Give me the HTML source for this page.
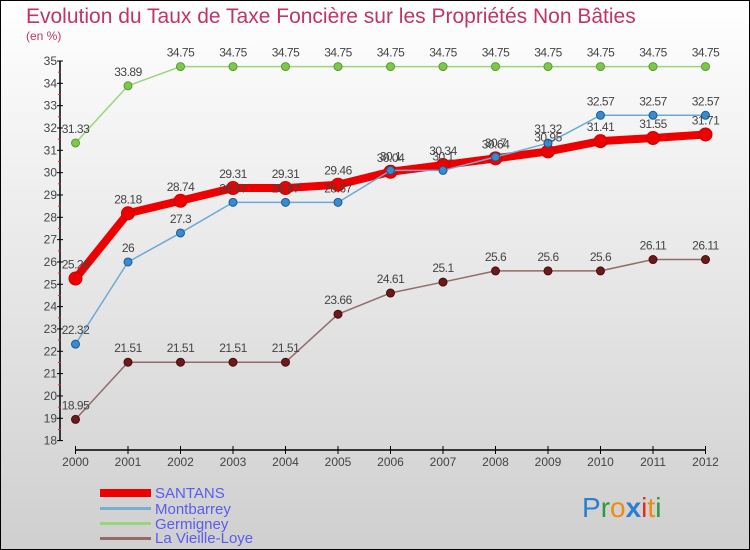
<!DOCTYPE html>
<html><head><meta charset="utf-8"><style>
body{margin:0}
svg{display:block;font-family:"Liberation Sans",sans-serif}
</style></head><body>
<svg id="c" width="750" height="550">
<defs><linearGradient id="bg" x1="0" y1="0" x2="0" y2="1"><stop offset="0" stop-color="#ffffff"/><stop offset="1" stop-color="#cfcfcf"/></linearGradient></defs>
<rect x="0.5" y="0.5" width="749" height="549" fill="url(#bg)" stroke="#000"/>
<text x="26" y="23" font-size="21" fill="#c23463">Evolution du Taux de Taxe Foncière sur les Propriétés Non Bâties</text>
<text x="26" y="40" font-size="12" fill="#c23463">(en %)</text>
<g id="axes"></g><g id="series"></g><g id="labels"></g>
<g>
<rect x="100" y="489" width="51" height="8" fill="#e00"/>
<text x="155" y="498" font-size="15" fill="#5b5bf0">SANTANS</text>
<rect x="100" y="507" width="51" height="3" fill="#7aaed0"/>
<text x="155" y="514" font-size="15" fill="#5b5bf0">Montbarrey</text>
<rect x="100" y="522" width="51" height="3" fill="#99d57a"/>
<text x="155" y="529" font-size="15" fill="#5b5bf0">Germigney</text>
<rect x="100" y="537" width="51" height="3" fill="#946a6a"/>
<text x="155" y="543" font-size="15" fill="#5b5bf0">La Vieille-Loye</text>
</g>
<text x="582" y="517" font-size="28"><tspan fill="#2a7fd0">P</tspan><tspan fill="#2a9a3a">r</tspan><tspan fill="#f08a10">o</tspan><tspan fill="#2a7fd0" font-weight="bold">x</tspan><tspan fill="#e03010">i</tspan><tspan fill="#f08a10">t</tspan><tspan fill="#2a9a3a">i</tspan></text>
</svg>
<script>
const years=[2000,2001,2002,2003,2004,2005,2006,2007,2008,2009,2010,2011,2012];
const santans=[25.26,28.18,28.74,29.31,29.31,29.46,30.04,30.34,30.64,30.95,31.41,31.55,31.71];
const montbarrey=[22.32,26,27.3,28.67,28.67,28.67,30.1,30.1,30.7,31.32,32.57,32.57,32.57];
const germigney=[31.33,33.89,34.75,34.75,34.75,34.75,34.75,34.75,34.75,34.75,34.75,34.75,34.75];
const vieilleLoye=[18.95,21.51,21.51,21.51,21.51,23.66,24.61,25.1,25.6,25.6,25.6,26.11,26.11];
const yTicks=[18,19,20,21,22,23,24,25,26,27,28,29,30,31,32,33,34,35];
const NS="http://www.w3.org/2000/svg";
const X=i=>75.5+i*52.5;
const Y=v=>61+(35-v)*22.33;
function mk(t,a,p){const e=document.createElementNS(NS,t);for(const k in a)e.setAttribute(k,a[k]);p.appendChild(e);return e;}
const ax=document.getElementById('axes');
let l=mk('line',{x1:60,y1:Y(35),x2:60,y2:Y(18),stroke:'#000','stroke-width':1.5},ax);


yTicks.forEach(v=>{
 const t=mk('line',{x1:57,x2:63,y1:Y(v),y2:Y(v),stroke:'#000'},ax);
 
 
 if(v<35){const m=mk('line',{x1:58,x2:61,y1:Y(v+0.5),y2:Y(v+0.5),stroke:'#e22'},ax);
 
 }
 const tx=mk('text',{x:57,y:Y(v)+4,'text-anchor':'end','font-size':12,fill:'#444'},ax);tx.textContent=v;
 
 
});
l=mk('line',{x1:X(0),y1:450,x2:X(12),y2:450,stroke:'#000','stroke-width':1.5},ax);


years.forEach((y,i)=>{
 const t=mk('line',{x1:X(i),x2:X(i),y1:446,y2:454,stroke:'#000'},ax);
 
 
 const tx=mk('text',{x:X(i),y:466,'text-anchor':'middle','font-size':12,fill:'#444'},ax);tx.textContent=y;
 
 
});
const sg=document.getElementById('series'),lg=document.getElementById('labels');
function draw(vals,name,col,w,r,dot,dotStroke){
 const p=mk('polyline',{points:vals.map((v,i)=>X(i)+','+Y(v)).join(' '),fill:'none',stroke:col,'stroke-width':w,'stroke-linejoin':'round'},sg);
 
 
 vals.forEach((v,i)=>{
  const c=mk('circle',{cx:X(i),cy:Y(v),r:r,fill:dot,stroke:dotStroke,'stroke-width':1},sg);
  
  
  const t=mk('text',{x:X(i),y:Y(v)-10,'text-anchor':'middle','font-size':12,fill:'#444','letter-spacing':'-0.5'},lg);
  t.textContent=v;
  
  
 });
}
draw(germigney,'germigney','#99d57a',1.5,4,'#7cc94a','#5a9a30');
draw(vieilleLoye,'la-vieille-loye','#946a6a',1.5,4,'#6a1a1a','#4a0a0a');
draw(santans,'santans','#ee0000',8,6.5,'#ee0000','#c00');
draw(montbarrey,'montbarrey','#6aaad8',1.5,4,'#3a8ad0','#1a5a90');
</script>
</body></html>
